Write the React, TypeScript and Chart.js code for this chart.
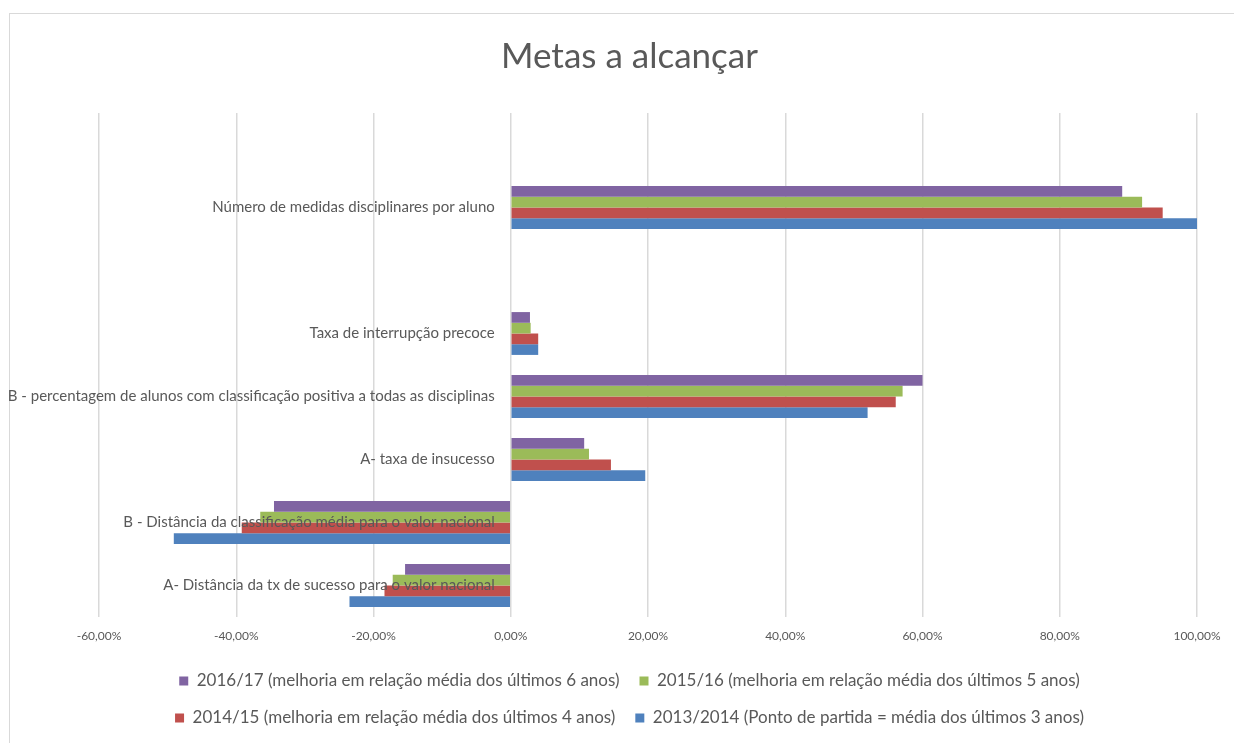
import React, { useEffect, useRef } from "react";
import { Chart, registerables } from "chart.js";

Chart.register(...registerables);

const categories: string[] = [
  "",
  "Número de medidas disciplinares por aluno",
  "",
  "Taxa de interrupção precoce",
  "B - percentagem de alunos com classificação positiva a todas as disciplinas",
  "A- taxa de insucesso",
  "B - Distância da classificação média para o valor nacional",
  "A- Distância da tx de sucesso para o valor nacional",
];

const seriesLabels: string[] = [
  "2016/17 (melhoria em relação média dos últimos 6 anos)",
  "2015/16 (melhoria em relação média dos últimos 5 anos)",
  "2014/15 (melhoria em relação média dos últimos 4 anos)",
  "2013/2014 (Ponto de partida = média dos últimos 3 anos)",
];

const values2016: (number | null)[] = [null, 89.1, null, 2.8, 60.0, 10.7, -34.5, -15.4];
const values2015: (number | null)[] = [null, 92.0, null, 2.9, 57.1, 11.4, -36.5, -17.2];
const values2014: (number | null)[] = [null, 95.0, null, 4.0, 56.1, 14.6, -39.2, -18.4];
const values2013: (number | null)[] = [null, 100.0, null, 4.0, 52.0, 19.6, -49.1, -23.5];

const xMin = -60;
const xMax = 100;
const xStep = 20;

const colors = ["#8064A2", "#9BBB59", "#C0504D", "#4F81BD"];
const textColor = "#595959";
const gridColor = "#d9d9d9";
const fontFamily = "Lato, 'Open Sans', sans-serif";

export default function App() {
  const canvasRef = useRef<HTMLCanvasElement>(null);

  useEffect(() => {
    if (!canvasRef.current) return;
    const seriesValues = [values2016, values2015, values2014, values2013];
    const chart = new Chart(canvasRef.current, {
      type: "bar",
      data: {
        labels: categories,
        datasets: seriesValues.map((vals, i) => ({
          label: seriesLabels[i],
          data: vals,
          backgroundColor: colors[i],
          borderWidth: 0,
          categoryPercentage: 0.68,
          barPercentage: 1,
        })),
      },
      options: {
        indexAxis: "y",
        animation: false,
        responsive: false,
        devicePixelRatio: 1,
        layout: { padding: { left: 62, right: 37, top: 0, bottom: 6.5 } },
        plugins: {
          title: {
            display: true,
            text: "Metas a alcançar",
            color: textColor,
            font: { family: fontFamily, size: 35, weight: "normal", lineHeight: 1.2 },
            padding: { top: 36, bottom: 35 },
          },
          legend: {
            position: "bottom",
            labels: {
              boxWidth: 9,
              boxHeight: 9,
              padding: 20,
              color: textColor,
              font: { family: fontFamily, size: 17 },
            },
          },
          tooltip: { enabled: false },
        },
        scales: {
          x: {
            type: "linear",
            min: xMin,
            max: xMax,
            ticks: {
              stepSize: xStep,
              padding: 12,
              color: textColor,
              font: { family: fontFamily, size: 12 },
              callback: (v: any) => Number(v).toFixed(2).replace(".", ",") + "%",
            },
            grid: { color: gridColor, lineWidth: 1.5, drawTicks: false },
            border: { display: false },
            afterFit: (s: any) => {
              s.height = 35.5;
            },
          },
          y: {
            type: "category",
            position: { x: -2.33 } as any,
            grid: { display: false, drawTicks: false },
            border: { display: false },
            ticks: {
              padding: 0,
              z: 1,
              autoSkip: false,
              color: textColor,
              font: { family: fontFamily, size: 15 },
            },
            afterFit: (s: any) => {
              s.width = 0;
            },
          },
          yPad: {
            type: "category",
            position: "left",
            display: true,
            grid: { display: false, drawTicks: false },
            border: { display: false },
            ticks: { display: false },
            afterFit: (s: any) => {
              s.width = 37;
            },
          },
        },
      } as any,
    });
    return () => chart.destroy();
  }, []);

  return (
    <div
      style={{
        position: "fixed",
        left: 0,
        top: 0,
        width: 1234,
        height: 743,
        background: "#ffffff",
        overflow: "hidden",
      }}
    >
      <div
        style={{
          position: "absolute",
          left: 9,
          top: 13,
          width: 1240,
          height: 760,
          border: "1.5px solid #d9d9d9",
          boxSizing: "border-box",
        }}
      />
      <canvas
        ref={canvasRef}
        width={1234}
        height={743}
        style={{ position: "absolute", left: 0, top: 0, width: 1234, height: 743 }}
      />
    </div>
  );
}
